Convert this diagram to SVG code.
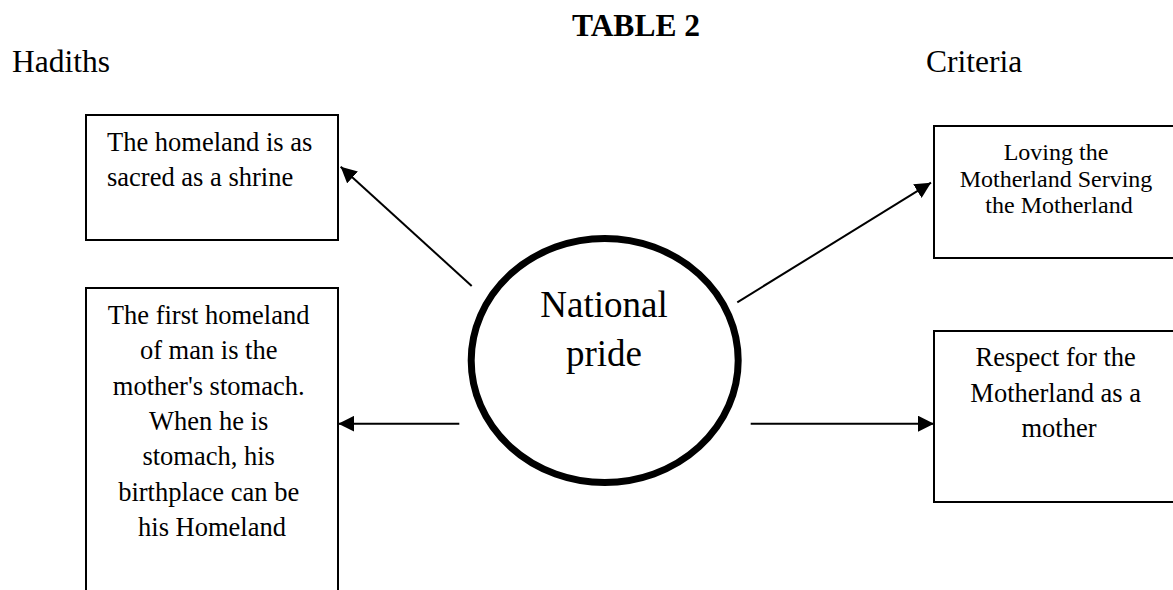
<svg xmlns="http://www.w3.org/2000/svg" width="1173" height="590" viewBox="0 0 1173 590">
<style>
text{font-family:"Liberation Serif","Times New Roman",serif;fill:#000}
.hdr{font-size:31.5px}
.bx{font-size:26.5px}
.sm{font-size:24px}
.box{fill:#fff;stroke:#000;stroke-width:2}
.c{text-anchor:middle}
.conn line{stroke:#000;stroke-width:2;marker-end:url(#ah)}
</style>
<defs>
<marker id="ah" markerUnits="userSpaceOnUse" markerWidth="18" markerHeight="16" refX="16" refY="8" orient="auto">
<path d="M0,0 L16,8 L0,16 Z" fill="#000"/>
</marker>
</defs>
<rect width="1173" height="590" fill="#fff"/>
<g id="title"><text class="hdr c" x="636" y="36" font-weight="bold">TABLE 2</text></g>
<g id="hadiths-label"><text class="hdr" x="12" y="72">Hadiths</text></g>
<g id="criteria-label"><text class="hdr" x="926" y="72">Criteria</text></g>
<g id="box-shrine">
<rect class="box" x="86" y="115" width="252" height="125"/>
<text class="bx" x="107" y="150.5">The homeland is as</text>
<text class="bx" x="107" y="185.5">sacred as a shrine</text>
</g>
<g id="box-stomach">
<rect class="box" x="86" y="288" width="252" height="320"/>
<text class="bx c" x="212">
<tspan x="212" y="324">The first homeland</tspan>
<tspan x="212" y="359.3">of man is the</tspan>
<tspan x="212" y="394.6">mother's stomach.</tspan>
<tspan x="212" y="430">When he is</tspan>
<tspan x="212" y="465.3">stomach, his</tspan>
<tspan x="212" y="500.6">birthplace can be</tspan>
<tspan x="212" y="536">his Homeland</tspan>
</text>
</g>
<g id="box-loving">
<rect class="box" x="934" y="126" width="260" height="132"/>
<text class="sm c">
<tspan x="1059" y="160">Loving the</tspan>
<tspan x="1059" y="186.5">Motherland Serving</tspan>
<tspan x="1059" y="213.3">the Motherland</tspan>
</text>
</g>
<g id="box-respect">
<rect class="box" x="934" y="331" width="260" height="171"/>
<text class="bx c">
<tspan x="1059" y="366">Respect for the</tspan>
<tspan x="1059" y="401.5">Motherland as a</tspan>
<tspan x="1059" y="437">mother</tspan>
</text>
</g>
<g id="national-pride">
<ellipse cx="604.7" cy="360.5" rx="133.5" ry="122" fill="#fff" stroke="#000" stroke-width="7"/>
<text class="c" x="604" y="317" font-size="37px">National</text>
<text class="c" x="604" y="366" font-size="37px">pride</text>
</g>
<g id="connectors" class="conn">
<line x1="471.7" y1="286" x2="340.7" y2="166.7"/>
<line x1="459.3" y1="423.7" x2="338.3" y2="423.7"/>
<line x1="737.3" y1="302.3" x2="931" y2="182.7"/>
<line x1="750.7" y1="423.7" x2="934" y2="423.7"/>
</g>
</svg>
